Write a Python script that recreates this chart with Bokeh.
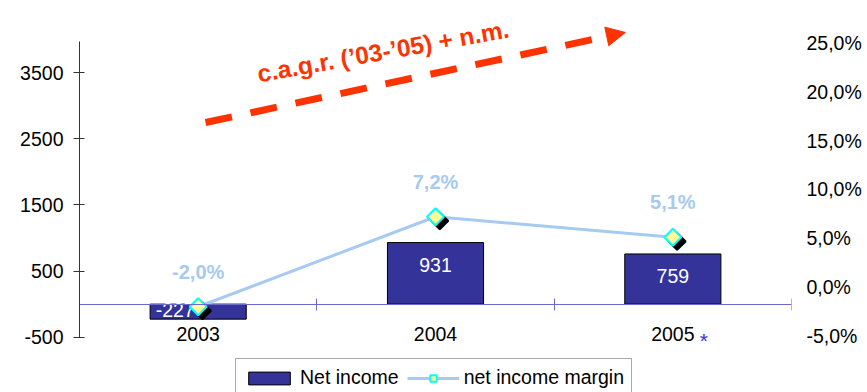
import math

from bokeh.plotting import figure
from bokeh.models import (FactorRange, Range1d, LinearAxis, FixedTicker,
                          CustomJSTickFormatter, ColumnDataSource, Legend, LegendItem,
                          Arrow, NormalHead, Label)
from bokeh.transform import dodge
from bokeh.core.properties import value
from bokeh.embed import file_html
from bokeh.resources import INLINE

# ---- data -------------------------------------------------------------
years = ["2003", "2004", "2005"]
net_income = [-227, 931, 759]          # left axis
net_margin = [-2.0, 7.2, 5.1]          # percent, right axis
left_ticks = [-500, 500, 1500, 2500, 3500]
right_ticks = [-5, 0, 5, 10, 15, 20, 25]
estimate_year = "2005"                 # year flagged with an asterisk
trend_text = "c.a.g.r. (\u201903-\u201905)  + n.m."

# ---- style ------------------------------------------------------------
FONT = "Liberation Sans"
BAR = "#333399"
LIGHT = "#a6caf0"
RED = "#ff3300"
AXIS_BLUE = "#6a6acc"


def pct(v):
    return f"{v:.1f}%".replace(".", ",")


src = ColumnDataSource(dict(
    year=years,
    income=net_income,
    income_txt=[str(v) for v in net_income],
    # inside-end placement for positive bars, centred-left for negative ones
    txt_dx=[0 if v > 0 else -23 for v in net_income],
    txt_dy=[22 if v > 0 else -9 for v in net_income],
    margin=net_margin,
    margin_txt=[pct(v) for v in net_margin],
))

# the frame runs down to the bottom edge so the legend sits inside it
p = figure(width=867, height=392,
           x_range=FactorRange(factors=years, range_padding=0),
           y_range=Range1d(-1337, 4412),
           x_axis_type=None, y_axis_type=None,
           output_backend="svg", toolbar_location=None,
           min_border_left=79, min_border_right=76,
           min_border_top=12, min_border_bottom=0)
p.outline_line_color = None
p.background_fill_color = "white"
p.border_fill_color = "white"
p.extra_y_ranges = {"pct": Range1d(-10.77, 28.09)}

# ---- axes -------------------------------------------------------------
yl = LinearAxis(ticker=FixedTicker(ticks=left_ticks), bounds=(-500, 3970),
                formatter=CustomJSTickFormatter(code="return String(tick)"),
                axis_line_color="#333333", major_tick_line_color="#333333",
                major_tick_in=5, major_tick_out=6, minor_tick_line_color=None,
                major_label_standoff=10,
                major_label_text_font=FONT, major_label_text_font_size="19.5px",
                major_label_text_color="black")
p.add_layout(yl, "left")

yr = LinearAxis(y_range_name="pct", ticker=FixedTicker(ticks=right_ticks),
                formatter=CustomJSTickFormatter(
                    code="return tick.toFixed(1).replace('.', ',') + '%'"),
                axis_line_color=None, major_tick_line_color=None,
                minor_tick_line_color=None, major_tick_out=0, major_tick_in=0,
                major_label_standoff=15,
                major_label_text_font=FONT, major_label_text_font_size="19.5px",
                major_label_text_color="black")
p.add_layout(yr, "right")

# category axis line at zero, with ticks on the category boundaries
xe = LinearAxis(ticker=FixedTicker(ticks=list(range(len(years) + 1))),
                formatter=CustomJSTickFormatter(code="return ''"),
                fixed_location=0,
                axis_line_color=AXIS_BLUE, major_tick_line_color=AXIS_BLUE,
                major_tick_in=6, major_tick_out=6, minor_tick_line_color=None,
                major_label_standoff=0, major_label_text_font_size="1px")
p.add_layout(xe, "above")

# ---- bars ---------------------------------------------------------------
bars = p.vbar(x="year", top="income", width=0.405, source=src,
              fill_color=BAR, line_color="black", line_width=1)
p.text(x="year", y="income", text="income_txt", source=src,
       x_offset="txt_dx", y_offset="txt_dy",
       text_align="center", text_baseline="middle",
       text_font=value(FONT), text_font_size="19.5px", text_color="white")

# category labels under the zero line
p.text(x="year", y=0, text="year", source=src, y_offset=30,
       text_align="center", text_baseline="middle",
       text_font=value(FONT), text_font_size="19.5px", text_color="black")
# asterisk after the estimated year
p.text(x=[estimate_year], y=[0], text=["*"], x_offset=31, y_offset=36,
       text_align="center", text_baseline="alphabetic",
       text_font=value(FONT), text_font_size="21px", text_color="#3333cc")

# ---- margin line ------------------------------------------------------
line = p.line(x="year", y="margin", source=src, y_range_name="pct",
              line_color=LIGHT, line_width=3)
p.scatter(x=dodge("year", 0.018, range=p.x_range), y=dodge("margin", -0.42),
          source=src, y_range_name="pct", marker="square", angle=math.pi / 4,
          size=12, fill_color="black", line_color="black", line_width=2)
marks = p.scatter(x="year", y="margin", source=src, y_range_name="pct",
                  marker="square", angle=math.pi / 4, size=12,
                  fill_color="#ffff99", line_color="#00ffff", line_width=2)
p.text(x="year", y="margin", text="margin_txt", source=src, y_range_name="pct",
       y_offset=-35, text_align="center", text_baseline="middle",
       text_font=value(FONT), text_font_style="bold", text_font_size="20px",
       text_color=LIGHT)

# ---- trend arrow ------------------------------------------------------
p.add_layout(Arrow(end=NormalHead(size=19, fill_color=RED, line_color=RED, line_width=1),
                   x_start=0.531, y_start=2748, x_end=2.30, y_end=4110,
                   line_color=RED, line_width=7, line_dash="27 19"))
p.add_layout(Label(x=0.750, y=3480, text=trend_text, angle=0.178,
                   text_font=FONT, text_font_style="bold", text_font_size="24.5px",
                   text_color=RED, text_baseline="alphabetic", text_align="left"))

# ---- legend -----------------------------------------------------------
legend = Legend(items=[LegendItem(label="Net income", renderers=[bars]),
                       LegendItem(label="net income margin", renderers=[line, marks])],
                location=(156, -5), orientation="horizontal",
                label_text_font=FONT, label_text_font_size="19.5px",
                label_text_color="black",
                glyph_width=52, glyph_height=16, label_standoff=5, spacing=8,
                padding=7, margin=0,
                border_line_color="#555555", border_line_width=1,
                background_fill_color="white", background_fill_alpha=1)
p.add_layout(legend)

open("out.html", "w").write(file_html(p, INLINE))
